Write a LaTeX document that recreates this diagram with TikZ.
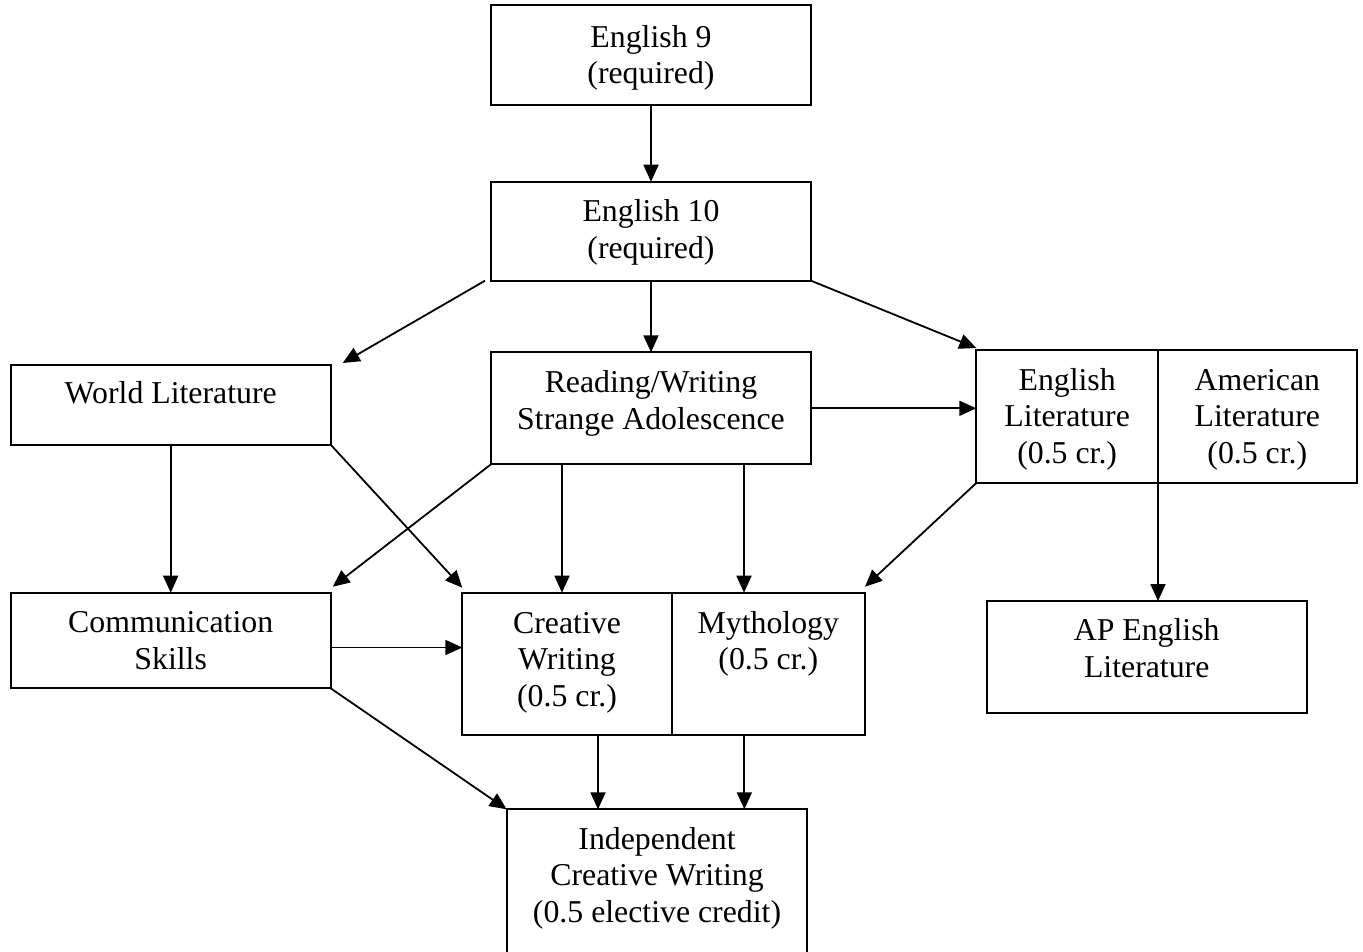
\documentclass[tikz,border=0pt]{standalone}
\usepackage{fontspec}
\setmainfont{Liberation Serif}
\usetikzlibrary{arrows.meta}
\newcommand{\mylines}[1]{\begin{tabular}[t]{@{}c@{}}#1\end{tabular}}
\tikzset{
  box/.style={draw, line width=2pt, inner sep=0pt, outer sep=0pt, anchor=north west},
  lbl/.style={inner sep=0pt, anchor=base, font=\fontsize{31.8}{36.6}\selectfont},
  arr/.style={line width=1.8pt, -{Triangle[length=17pt,width=15pt]}},
}
\begin{document}
\begin{tikzpicture}[x=1pt,y=-1pt]
\useasboundingbox (0,0) rectangle (1363,951);
% boxes
\node[box, minimum width=320pt, minimum height=100.5pt] (e9) at (491,4.5) {};
\node[box, minimum width=320pt, minimum height=99pt] (e10) at (491,181.7) {};
\node[box, minimum width=320pt, minimum height=79.7pt] (wl) at (10.7,365) {};
\node[box, minimum width=320pt, minimum height=112pt] (rw) at (491,352.3) {};
\node[box, minimum width=181.7pt, minimum height=133pt] (el) at (976.3,350) {};
\node[box, minimum width=198.7pt, minimum height=133pt] (al) at (1158,350) {};
\node[box, minimum width=320pt, minimum height=95.6pt] (cs) at (10.7,592.7) {};
\node[box, minimum width=209.4pt, minimum height=142.3pt] (cw) at (462.3,592.7) {};
\node[box, minimum width=193.3pt, minimum height=142.3pt] (my) at (671.7,592.7) {};
\node[box, minimum width=320pt, minimum height=112.3pt] (ap) at (986.7,601) {};
\node[box, minimum width=300.6pt, minimum height=150pt] (icw) at (506.7,809.3) {};
% texts
\node[lbl] (te9) at ([yshift=-42.5pt]e9.north) {\mylines{English 9\\(required)}};
\node[lbl] (te10) at ([yshift=-40pt]e10.north) {\mylines{English 10\\(required)}};
\node[lbl] (twl) at ([yshift=-38pt]wl.north) {\mylines{World Literature}};
\node[lbl] (trw) at ([yshift=-40.4pt]rw.north) {\mylines{Reading/Writing\\Strange Adolescence}};
\node[lbl] (tel) at ([yshift=-40pt]el.north) {\mylines{English\\Literature\\(0.5 cr.)}};
\node[lbl] (tal) at ([yshift=-40pt]al.north) {\mylines{American\\Literature\\(0.5 cr.)}};
\node[lbl] (tcs) at ([yshift=-40pt]cs.north) {\mylines{Communication\\Skills}};
\node[lbl] (tcw) at ([yshift=-40.3pt]cw.north) {\mylines{Creative\\Writing\\(0.5 cr.)}};
\node[lbl] (tmy) at ([yshift=-40.3pt]my.north) {\mylines{Mythology\\(0.5 cr.)}};
\node[lbl] (tap) at ([yshift=-39.7pt]ap.north) {\mylines{AP English\\Literature}};
\node[lbl] (ticw) at ([yshift=-39.7pt]icw.north) {\mylines{Independent\\Creative Writing\\(0.5 elective credit)}};
% connectors
\draw[arr] (e9.south) -- (e10.north);
\draw[arr] ([xshift=-6pt]e10.south west) -- ([xshift=12pt,yshift=2pt]wl.north east);
\draw[arr] (e10.south) -- (rw.north);
\draw[arr] (e10.south east) -- ([yshift=2pt]el.north west);
\draw[arr] (rw.east) -- (rw.east -| el.west);
\draw[arr] (wl.south) -- (cs.north);
\draw[arr] (wl.south east) -- ([yshift=5pt]cw.north west);
\draw[arr] (rw.south west) -- ([xshift=2pt,yshift=6pt]cs.north east);
\coordinate (rwa) at ([xshift=-89pt]rw.south);
\draw[arr] (rwa) -- (rwa |- cw.north);
\coordinate (rwb) at ([xshift=93pt]rw.south);
\draw[arr] (rwb) -- (rwb |- my.north);
\draw[arr] (el.south west) -- ([yshift=6pt]my.north east);
\draw[arr] (el.south east) -- (el.south east |- ap.north);
\draw[arr] ([yshift=-7pt]cs.east) -- ([yshift=-7pt]cs.east -| cw.west);
\draw[arr] (cs.south east) -- (icw.north west);
\coordinate (cwa) at ([xshift=31pt]cw.south);
\draw[arr] (cwa) -- (cwa |- icw.north);
\coordinate (mya) at ([xshift=-24pt]my.south);
\draw[arr] (mya) -- (mya |- icw.north);
\end{tikzpicture}
\end{document}
